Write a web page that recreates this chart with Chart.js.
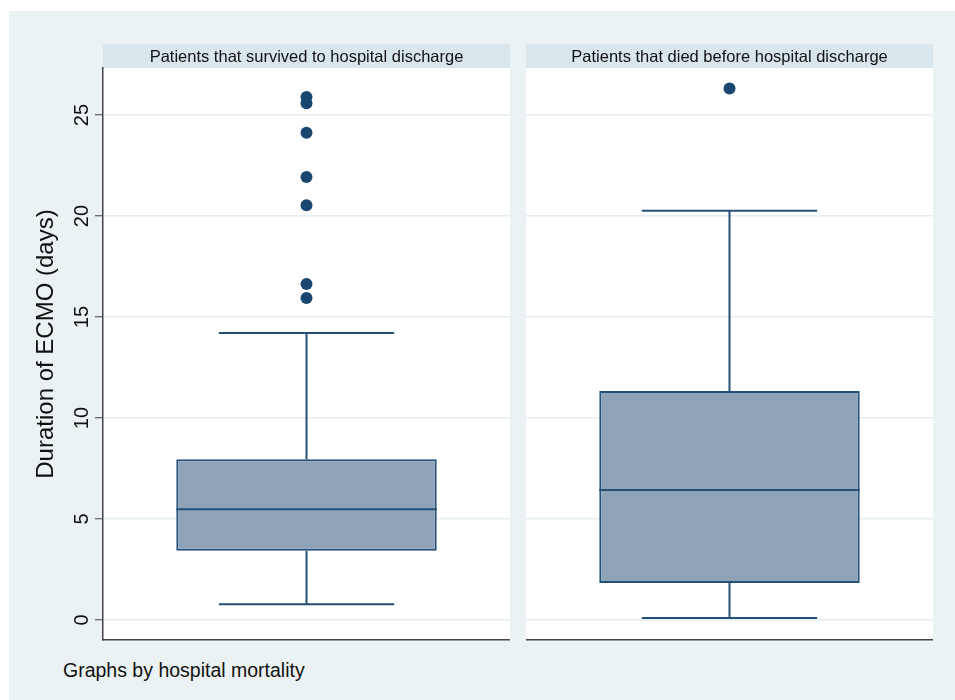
<!DOCTYPE html>
<html>
<head>
<meta charset="utf-8">
<title>Duration of ECMO by hospital mortality</title>
<script src="https://cdn.jsdelivr.net/npm/chart.js@4.4.1/dist/chart.umd.min.js"></script>
<style>
  html, body { margin: 0; padding: 0; background: #ffffff; }
  #page { position: absolute; left: 9px; top: 11px; width: 946px; height: 689px; background: #EAF2F3; }
  .panel { position: absolute; }
  #p1 { left: 20px; top: 44px; }
  #p2 { left: 526px; top: 44px; }
  #note { position: absolute; left: 63px; top: 659px; line-height: 20px;
          font: 19.5px "Liberation Sans", Arial, sans-serif; color: #111; white-space: nowrap; }
</style>
</head>
<body>
<div id="page"></div>
<canvas id="p1" class="panel" width="490" height="600"></canvas>
<canvas id="p2" class="panel" width="407" height="600"></canvas>
<div id="note">Graphs by hospital mortality</div>

<script>
// Box plot summary per group (days on ECMO)
const panelTitles = ['Patients that survived to hospital discharge', 'Patients that died before hospital discharge'];
const lowerWhisker = [0.78, 0.10];
const quartile1    = [3.43, 1.83];
const medians      = [5.48, 6.44];
const quartile3    = [7.96, 11.34];
const upperWhisker = [14.21, 20.26];
const outliersSurvived = [25.89, 25.59, 24.13, 21.93, 20.54, 16.63, 15.94];
const outliersDied     = [26.31];
const yTicks = [0, 5, 10, 15, 20, 25];
const yTitle = 'Duration of ECMO (days)';

const FONT = '"Liberation Sans", Arial, sans-serif';
const BOX_FILL = '#8EA3B8';
const LINE = '#25507A';
const DOT = '#1A476F';
const GRID = '#E4EEF1';
const STRIP = '#D9E6EB';
const AXIS = '#444444';

const boxPlugin = {
  id: 'boxDecor',
  beforeDraw(chart, args, opts) {
    const { ctx, chartArea: a } = chart;
    ctx.save();
    ctx.fillStyle = '#ffffff';
    ctx.fillRect(a.left, a.top, a.right - a.left, a.bottom - a.top);
    ctx.fillStyle = STRIP;
    ctx.fillRect(a.left, 0, a.right - a.left, a.top);
    ctx.fillStyle = '#111';
    ctx.font = '16.5px ' + FONT;
    ctx.textAlign = 'center';
    ctx.textBaseline = 'alphabetic';
    ctx.fillText(panelTitles[opts.index], (a.left + a.right) / 2, 18);
    ctx.restore();
  },
  beforeDatasetsDraw(chart, args, opts) {
    const i = opts.index;
    const { ctx } = chart;
    const y = chart.scales.y;
    const bar = chart.getDatasetMeta(0).data[0];
    const cx = bar.x;
    const half = bar.width * 0.673 / 2;
    const yUp = y.getPixelForValue(upperWhisker[i]);
    const yLo = y.getPixelForValue(lowerWhisker[i]);
    ctx.save();
    ctx.strokeStyle = LINE;
    ctx.lineWidth = 2;
    ctx.beginPath();
    ctx.moveTo(cx, y.getPixelForValue(quartile3[i])); ctx.lineTo(cx, yUp);
    ctx.moveTo(cx, y.getPixelForValue(quartile1[i])); ctx.lineTo(cx, yLo);
    ctx.moveTo(cx - half, yUp); ctx.lineTo(cx + half, yUp);
    ctx.moveTo(cx - half, yLo); ctx.lineTo(cx + half, yLo);
    ctx.stroke();
    ctx.restore();
  },
  afterDatasetsDraw(chart, args, opts) {
    const i = opts.index;
    const { ctx } = chart;
    const y = chart.scales.y;
    const bar = chart.getDatasetMeta(0).data[0];
    const ym = y.getPixelForValue(medians[i]);
    ctx.save();
    ctx.strokeStyle = LINE;
    ctx.lineWidth = 2;
    ctx.beginPath();
    ctx.moveTo(bar.x - bar.width / 2, ym);
    ctx.lineTo(bar.x + bar.width / 2, ym);
    ctx.stroke();
    ctx.restore();
  },
  afterDraw(chart, args, opts) {
    if (!opts.labels) return;
    const { ctx, chartArea: a } = chart;
    const y = chart.scales.y;
    ctx.save();
    ctx.fillStyle = '#111';
    ctx.textAlign = 'center';
    ctx.textBaseline = 'alphabetic';
    ctx.font = '20px ' + FONT;
    y.ticks.forEach(t => {
      ctx.save();
      ctx.translate(a.left - 15, y.getPixelForValue(t.value));
      ctx.rotate(-Math.PI / 2);
      ctx.fillText(String(t.value), 0, 0);
      ctx.restore();
    });
    ctx.font = '24px ' + FONT;
    ctx.translate(33, 300);
    ctx.rotate(-Math.PI / 2);
    ctx.fillText(yTitle, 0, 0);
    ctx.restore();
  }
};

function makePanel(id, i, outliers, showAxis) {
  return new Chart(document.getElementById(id), {
    type: 'bar',
    data: {
      labels: [panelTitles[i]],
      datasets: [
        {
          type: 'bar',
          data: [[quartile1[i], quartile3[i]]],
          backgroundColor: BOX_FILL,
          borderColor: LINE,
          borderWidth: 2,
          borderSkipped: false,
          barPercentage: 0.64,
          categoryPercentage: 1,
          order: 2
        },
        {
          type: 'line',
          data: outliers.map(v => ({ x: panelTitles[i], y: v })),
          showLine: false,
          pointRadius: 6,
          pointBackgroundColor: DOT,
          pointBorderWidth: 0,
          order: 1
        }
      ]
    },
    options: {
      responsive: false,
      animation: false,
      devicePixelRatio: 1,
      events: [],
      layout: { autoPadding: false, padding: { top: 24, bottom: 4, left: 0, right: 0 } },
      plugins: {
        legend: { display: false },
        title: { display: false },
        tooltip: { enabled: false },
        boxDecor: { index: i, labels: showAxis }
      },
      scales: {
        x: {
          type: 'category',
          offset: true,
          grid: { display: false, drawTicks: false },
          ticks: { display: false },
          border: { display: true, color: AXIS, width: 1.5 },
          afterFit(s) { s.height = 0; }
        },
        y: {
          type: 'linear',
          min: -0.99,
          max: 27.33,
          afterBuildTicks(s) { s.ticks = yTicks.map(v => ({ value: v })); },
          grid: { color: GRID, lineWidth: 1.5, drawTicks: showAxis, tickLength: 8, tickColor: AXIS, tickWidth: 1 },
          ticks: { display: false },
          border: { display: showAxis, color: AXIS, width: 1.5 },
          afterFit(s) { s.width = showAxis ? 83 : 0; }
        }
      }
    },
    plugins: [boxPlugin]
  });
}

makePanel('p1', 0, outliersSurvived, true);
makePanel('p2', 1, outliersDied, false);
</script>
</body>
</html>
